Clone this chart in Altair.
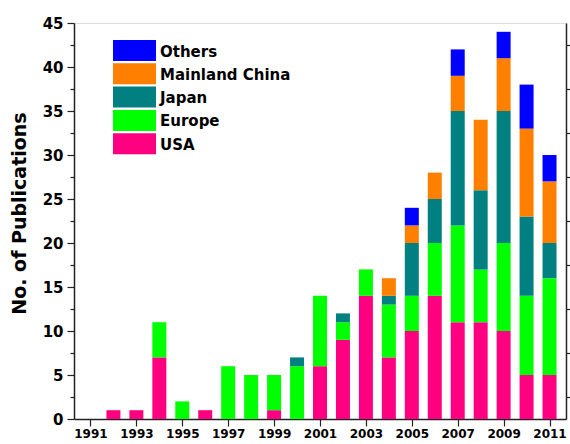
import altair as alt
import pandas as pd

years = list(range(1991, 2012))
usa    = [0, 1, 1, 7, 0, 1, 0, 0, 1, 0, 6, 9, 14, 7, 10, 14, 11, 11, 10, 5, 5]
europe = [0, 0, 0, 4, 2, 0, 6, 5, 4, 6, 8, 2, 3, 6, 4, 6, 11, 6, 10, 9, 11]
japan  = [0, 0, 0, 0, 0, 0, 0, 0, 0, 1, 0, 1, 0, 1, 6, 5, 13, 9, 15, 9, 4]
china  = [0, 0, 0, 0, 0, 0, 0, 0, 0, 0, 0, 0, 0, 2, 2, 3, 4, 8, 6, 10, 7]
others = [0, 0, 0, 0, 0, 0, 0, 0, 0, 0, 0, 0, 0, 0, 2, 0, 3, 0, 3, 5, 3]

regions = ["Others", "Mainland China", "Japan", "Europe", "USA"]
colors = ["#0000FF", "#FF8000", "#008080", "#00FF00", "#FF0080"]
series = {"USA": usa, "Europe": europe, "Japan": japan,
          "Mainland China": china, "Others": others}
stack_rank = {"USA": 0, "Europe": 1, "Japan": 2, "Mainland China": 3, "Others": 4}

rows = []
for name, vals in series.items():
    for y, v in zip(years, vals):
        rows.append({"year": y, "region": name, "count": v, "rank": stack_rank[name]})
df = pd.DataFrame(rows)

legend_df = pd.DataFrame({"region": regions, "idx": list(range(len(regions)))})

FONT = "DejaVu Sans"
AX = "#222222"
color_scale = alt.Scale(domain=regions, range=colors)

x_enc = alt.X(
    "year:Q",
    scale=alt.Scale(domain=[1990.5, 2011.5], nice=False, zero=False),
    axis=alt.Axis(
        title=None, values=years, format="d",
        labelExpr="datum.value % 2 === 1 ? datum.label : ''",
        labelFont=FONT, labelFontSize=12, labelFontWeight="bold", labelColor="black",
        labelPadding=2, grid=False, domainColor=AX, domainWidth=1.5,
        tickColor=AX, tickWidth=1.2,
        tickSize={"condition": {"test": "datum.value % 2 === 1", "value": 7}, "value": 4},
        labelOverlap=False,
    ),
)

y_scale = alt.Scale(domain=[0, 45], nice=False)

bars = alt.Chart(df).mark_bar(size=14).encode(
    x=x_enc,
    y=alt.Y(
        "sum(count):Q", stack="zero", scale=y_scale,
        axis=alt.Axis(
            title="No. of Publications", titleFont=FONT, titleFontSize=19,
            titleFontWeight="bold", titleColor="black", titlePadding=13,
            titleY=213 - 23,
            values=[i * 2.5 for i in range(19)],
            labelExpr="datum.value % 5 === 0 ? datum.label : ''",
            labelFont=FONT, labelFontSize=15, labelFontWeight="bold", labelColor="black",
            labelPadding=4, grid=False, domainColor=AX, domainWidth=1.5,
            tickColor=AX, tickWidth=1.2,
            tickSize={"condition": {"test": "datum.value % 5 === 0", "value": 7}, "value": 4},
        ),
    ),
    color=alt.Color("region:N", scale=color_scale, legend=None),
    order=alt.Order("rank:Q", sort="ascending"),
)

right = alt.Chart(df).mark_point(opacity=0).encode(
    x=alt.X("year:Q", scale=alt.Scale(domain=[1990.5, 2011.5], nice=False, zero=False)),
    y=alt.Y(
        "count:Q", scale=y_scale,
        axis=alt.Axis(
            orient="right", title=None, labels=False, grid=False,
            values=[2.5 + 5 * i for i in range(9)],
            domainColor=AX, domainWidth=1.5, tickColor=AX, tickWidth=1.2, tickSize=5,
        ),
    ),
)

# manual legend (pixel layout inside the plot area)
leg_base = alt.Chart(legend_df).transform_calculate(
    top="17 + datum.idx * 23.3",
    bot="17 + datum.idx * 23.3 + 21",
    mid="17 + datum.idx * 23.3 + 10.5",
)
leg_rect = leg_base.mark_rect().encode(
    x=alt.value(39), x2=alt.value(82),
    y=alt.Y("top:Q", scale=None, axis=None),
    y2=alt.Y2("bot:Q"),
    color=alt.Color("region:N", scale=color_scale, legend=None),
)
leg_text = leg_base.mark_text(
    align="left", baseline="middle", font=FONT, fontSize=15, fontWeight="bold",
    color="black", dx=0, dy=1,
).encode(
    x=alt.value(86),
    y=alt.Y("mid:Q", scale=None, axis=None),
    text="region:N",
)

chart = alt.layer(bars, right, leg_rect, leg_text).resolve_axis(y="independent").properties(
    width=492, height=396,
    autosize=alt.AutoSizeParams(type="none"),
    padding={"left": 74, "top": 23, "right": 4, "bottom": 25},
).configure_view(stroke=AX, strokeWidth=1.5).configure(background="white")

chart.save("out.html", embed_options={"renderer": "svg", "actions": False})
